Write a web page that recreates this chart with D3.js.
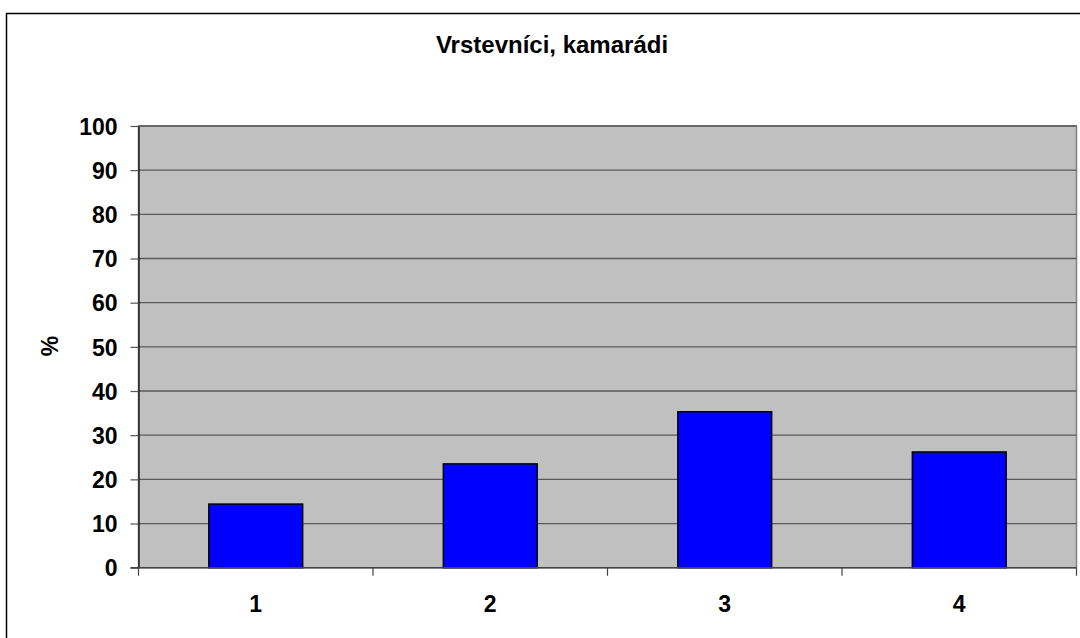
<!DOCTYPE html>
<html>
<head>
<meta charset="utf-8">
<script src="https://cdn.jsdelivr.net/npm/d3@7"></script>
<style>
  body { margin: 0; background: #fff; }
  svg { display: block; font-family: "Liberation Sans", Arial, sans-serif; }
</style>
</head>
<body>
<script>
// data
const categories = ['1', '2', '3', '4'];
const values = [14.4, 23.5, 35.3, 26.2];
const yTicks = [0, 10, 20, 30, 40, 50, 60, 70, 80, 90, 100];
const title = 'Vrstevníci, kamarádi';
const yLabel = '%';

const width = 1080,
    height = 638;

const plotLeft = 138.5, plotRight = 1076.5, plotTop = 126, plotBottom = 567.7;

const svg = d3.select('body').append('svg')
    .attr('width', width)
    .attr('height', height);

// outer chart frame (runs off right/bottom)
svg.append('rect')
    .attr('x', 6.5).attr('y', 13.5)
    .attr('width', 1100).attr('height', 700)
    .style('fill', '#fff')
    .style('stroke', '#000')
    .style('stroke-width', 1.5);

let x = d3.scaleBand()
    .domain(categories)
    .range([plotLeft, plotRight])
    .paddingInner(0.6)
    .paddingOuter(0.3);

let y = d3.scaleLinear()
    .domain([0, 100])
    .range([plotBottom, plotTop]);

// plot area
svg.append('rect')
    .attr('x', plotLeft).attr('y', plotTop)
    .attr('width', plotRight - plotLeft).attr('height', plotBottom - plotTop)
    .style('fill', '#c0c0c0')
    .style('stroke', '#808080')
    .style('stroke-width', 1.5);

// gridlines
svg.append('g').selectAll('line')
    .data(yTicks.filter(d => d > 0))
    .join('line')
    .attr('x1', plotLeft).attr('x2', plotRight)
    .attr('y1', d => y(d)).attr('y2', d => y(d))
    .style('stroke', '#5a5a5a')
    .style('stroke-width', 1.3);

// bars
svg.append('g').selectAll('rect')
    .data(values)
    .join('rect')
    .attr('x', (d, i) => x(categories[i]))
    .attr('y', d => y(d))
    .attr('width', x.bandwidth())
    .attr('height', d => y(0) - y(d))
    .style('fill', '#0000ff')
    .style('stroke', '#000')
    .style('stroke-width', 1.5);

// y axis
let yAxis = d3.axisLeft(y)
    .tickValues(yTicks)
    .tickSize(8)
    .tickPadding(13)
    .tickSizeOuter(0);

let gy = svg.append('g')
    .attr('transform', `translate(${plotLeft},0)`)
    .call(yAxis);
gy.select('.domain').style('stroke', '#000').style('stroke-width', 1.2);
gy.selectAll('.tick line').style('stroke', '#555').style('stroke-width', 1.2);
gy.selectAll('.tick text')
    .style('font-size', '23px')
    .style('font-weight', 'bold')
    .style('font-family', '"Liberation Sans", Arial, sans-serif')
    .style('fill', '#000')
    .attr('dy', '0.36em');

// x axis: baseline with ticks at category boundaries
let bounds = d3.range(categories.length + 1).map(i => plotLeft + i * (plotRight - plotLeft) / categories.length);
svg.append('line')
    .attr('x1', plotLeft - 8).attr('x2', plotRight)
    .attr('y1', plotBottom).attr('y2', plotBottom)
    .style('stroke', '#444')
    .style('stroke-width', 1.5);
svg.append('g').selectAll('line')
    .data(bounds)
    .join('line')
    .attr('x1', d => d).attr('x2', d => d)
    .attr('y1', plotBottom).attr('y2', plotBottom + 8)
    .style('stroke', '#444')
    .style('stroke-width', 1.2);

svg.append('g').selectAll('text')
    .data(categories)
    .join('text')
    .attr('x', d => x(d) + x.bandwidth() / 2)
    .attr('y', 612)
    .attr('text-anchor', 'middle')
    .style('font-size', '23px')
    .style('font-weight', 'bold')
    .text(d => d);

// title
svg.append('text')
    .attr('x', 552)
    .attr('y', 53)
    .attr('text-anchor', 'middle')
    .style('font-size', '24px')
    .style('font-weight', 'bold')
    .text(title);

// y label
svg.append('text')
    .attr('transform', 'translate(58,346) rotate(-90)')
    .attr('text-anchor', 'middle')
    .style('font-size', '23px')
    .style('font-weight', 'bold')
    .text(yLabel);
</script>
</body>
</html>
